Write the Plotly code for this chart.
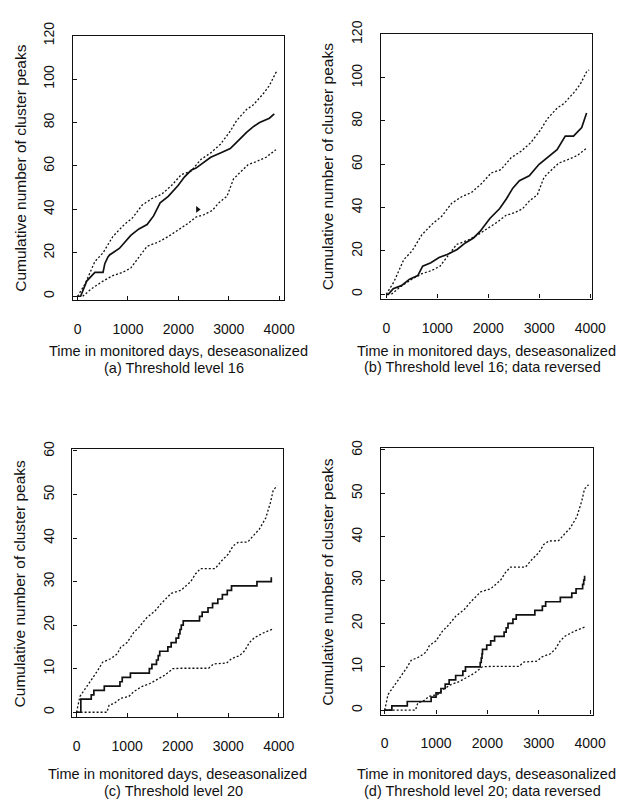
import plotly.graph_objects as go

W, H = 640, 799

# ---- Data ----
# Threshold 16: envelope curves (same in panels a and b)
t16_upper = [0, 149, 343, 505, 699, 926, 1087, 1282, 1476, 1670, 1864, 2058, 2252, 2447, 2641, 2835, 3029, 3159, 3353, 3482, 3676, 3806, 3935, 3980]
n16_upper = [0, 5.7, 16, 20, 27.5, 33, 36, 42, 45, 47, 51, 56, 57.6, 63, 66, 70, 76, 81, 86, 88, 93, 97, 103, 103.5]
t16_lower = [100, 278, 505, 699, 893, 1055, 1217, 1379, 1605, 1799, 1994, 2188, 2350, 2512, 2673, 2803, 2964, 3094, 3223, 3385, 3547, 3741, 3935]
n16_lower = [0, 3.5, 7, 9.5, 11, 13, 18, 23, 25, 27.5, 30.5, 33.5, 36.5, 37.6, 39.5, 43, 46, 54, 57, 60.6, 62, 64, 67.5]

# (a) observed cumulative count
t_a = [0, 60, 181, 343, 505, 540, 600, 634, 828, 1055, 1217, 1379, 1508, 1638, 1799, 1994, 2123, 2252, 2350, 2512, 2641, 2835, 3029, 3159, 3353, 3482, 3612, 3806, 3903]
n_a = [0, 0, 7, 11, 11, 15, 18, 19, 22, 28, 31, 33, 37, 43, 46, 51, 55, 58, 59, 62, 64, 66, 68, 71, 75.5, 78, 80, 82, 84]
# (b) observed, data reversed
t_b = [0, 40, 135, 296, 457, 618, 714, 875, 1035, 1196, 1389, 1550, 1711, 1839, 2032, 2225, 2354, 2482, 2611, 2804, 2997, 3158, 3350, 3511, 3672, 3833, 3929]
n_b = [0, 0, 2.6, 4, 7, 8.6, 13, 14.6, 17, 18.4, 20.7, 23.7, 26, 29, 35, 39.6, 44, 49, 52.4, 54.7, 60, 63, 66.8, 73, 73, 77, 83.7]
# stray mark in panel (a)
t_mark = [2382]
n_mark = [40]

# Threshold 20: envelope curves (same in panels c and d)
t20_upper = [0, 65, 129, 194, 290, 419, 516, 677, 806, 871, 1000, 1129, 1226, 1387, 1548, 1677, 1871, 2065, 2258, 2355, 2452, 2742, 2871, 3000, 3097, 3194, 3387, 3516, 3613, 3742, 3839, 3890, 3968]
n20_upper = [0, 3.6, 4.7, 5.9, 7.4, 9.6, 11.5, 12.3, 13.4, 14.9, 16, 18.3, 19.4, 21.7, 23.2, 25, 27.3, 28, 30, 31.8, 33, 33, 34.8, 36.3, 38.2, 39, 39.1, 40.8, 42, 44.6, 48.3, 51, 52]
t20_lower = [0, 600, 645, 742, 871, 1032, 1129, 1290, 1452, 1581, 1742, 1903, 2065, 2613, 2710, 2968, 3065, 3226, 3323, 3419, 3516, 3710, 3903]
n20_lower = [0, 0, 1.7, 2, 3.2, 3.6, 4.7, 5.9, 6.6, 7.5, 8.5, 10, 10.1, 10.1, 11.1, 11.3, 12.3, 13, 14.1, 16, 17.1, 18.3, 19.2]

# (c) observed step counts
t_c = [0, 84, 290, 342, 548, 858, 903, 1065, 1439, 1490, 1581, 1615, 1645, 1806, 1871, 1968, 2019, 2045, 2071, 2110, 2432, 2484, 2600, 2690, 2794, 2884, 2981, 3065, 3568, 3852]
n_c = [0, 3, 4, 5, 6, 7, 8, 9, 10, 11, 12, 13, 14, 15, 16, 17, 18, 19, 20, 21, 22, 23, 24, 25, 26, 27, 28, 29, 30, 31]
# (d) observed step counts, data reversed
t_d = [0, 140, 440, 904, 1000, 1096, 1178, 1255, 1382, 1522, 1573, 1860, 1880, 1895, 1904, 1987, 2064, 2140, 2325, 2365, 2401, 2497, 2561, 2924, 3070, 3134, 3420, 3643, 3726, 3854, 3875, 3892]
n_d = [0, 1, 2, 3, 4, 5, 6, 7, 8, 9, 10, 11, 12, 13, 14, 15, 16, 17, 18, 19, 20, 21, 22, 23, 24, 25, 26, 27, 28, 29, 30, 31]

x_ticks = [0, 1000, 2000, 3000, 4000]
y_ticks_16 = [0, 20, 40, 60, 80, 100, 120]
y_ticks_20 = [0, 10, 20, 30, 40, 50, 60]

x_title = "Time in monitored days, deseasonalized"
y_title = "Cumulative number of cluster peaks"
subtitles = ["(a) Threshold level 16", "(b) Threshold level 16; data reversed",
             "(c) Threshold level 20", "(d) Threshold level 20; data reversed"]

# ---- Layout geometry (pixels) ----
boxes = [(74.7, 290.3, 22, 291.5), (389.7, 605.5, 20.7, 289.7),
         (74, 289, 443, 716), (389.3, 606, 442, 713)]
xranges = [[-90, 4095], [-100, 4040], [-83, 4077], [-76, 4051]]
yranges = [[-1.9, 120], [-2, 120], [-1.2, 60.4], [-1, 60.4]]
title_line1 = [343.5, 343.0, 774.0, 774.0]
LINE_GAP = 16.6

FONT = "Liberation Sans, Arial, Helvetica, sans-serif"
INK = "#111111"
DOT = "2px,2px"

fig = go.Figure()

def add_line(i, x, y, dash, width, shape="linear"):
    fig.add_trace(go.Scatter(
        x=x, y=y, mode="lines", line=dict(color=INK, width=width, dash=dash, shape=shape),
        xaxis="x" if i == 0 else f"x{i+1}", yaxis="y" if i == 0 else f"y{i+1}",
        showlegend=False, hoverinfo="skip"))

add_line(0, t16_upper, n16_upper, DOT, 1.3)
add_line(0, t16_lower, n16_lower, DOT, 1.3)
add_line(0, t_a, n_a, "solid", 1.7)
fig.add_trace(go.Scatter(x=t_mark, y=n_mark, mode="markers",
                         marker=dict(symbol="triangle-right", size=6, color=INK),
                         xaxis="x", yaxis="y", showlegend=False, hoverinfo="skip"))
add_line(1, t16_upper, n16_upper, DOT, 1.3)
add_line(1, t16_lower, n16_lower, DOT, 1.3)
add_line(1, t_b, n_b, "solid", 1.7)
add_line(2, t20_upper, n20_upper, DOT, 1.3)
add_line(2, t20_lower, n20_lower, DOT, 1.3)
add_line(2, t_c, n_c, "solid", 1.7, "hv")
add_line(3, t20_upper, n20_upper, DOT, 1.3)
add_line(3, t20_lower, n20_lower, DOT, 1.3)
add_line(3, t_d, n_d, "solid", 1.7, "hv")

layout = dict(width=W, height=H, margin=dict(l=0, r=0, t=0, b=0),
              paper_bgcolor="white", plot_bgcolor="white",
              font=dict(family=FONT, color=INK, size=14))

annotations = []
for i, (l, r, t, b) in enumerate(boxes):
    sx = "" if i == 0 else str(i + 1)
    yt = y_ticks_16 if i < 2 else y_ticks_20
    common = dict(showline=True, mirror=True, linecolor=INK, linewidth=1.3,
                  ticks="inside", ticklen=4, tickwidth=1, tickcolor=INK,
                  showgrid=False, zeroline=False, tickfont=dict(size=14, family=FONT, color=INK))
    layout["xaxis" + sx] = dict(domain=[l / W, r / W], range=xranges[i],
                                anchor="y" + sx, tickvals=x_ticks,
                                ticktext=[str(v) for v in x_ticks],
                                ticklabelstandoff=16, **common)
    layout["yaxis" + sx] = dict(domain=[1 - b / H, 1 - t / H], range=yranges[i],
                                anchor="x" + sx, tickvals=yt,
                                ticktext=[str(v) for v in yt], tickangle=-90,
                                ticklabelstandoff=12, **common)
    cx = (l + r) / 2
    cy = (t + b) / 2
    annotations.append(dict(xref="paper", yref="paper", x=(l - 54.5) / W, y=1 - cy / H,
                            text=y_title, textangle=-90, showarrow=False,
                            xanchor="center", yanchor="middle",
                            font=dict(size=15.5, family=FONT, color=INK)))
    l1 = title_line1[i]
    annotations.append(dict(xref="paper", yref="paper", x=cx / W, y=1 - l1 / H,
                            text=x_title, showarrow=False, xanchor="center", yanchor="middle",
                            font=dict(size=14.5, family=FONT, color=INK)))
    annotations.append(dict(xref="paper", yref="paper", x=(cx - 4.5) / W, y=1 - (l1 + LINE_GAP) / H,
                            text=subtitles[i], showarrow=False, xanchor="center", yanchor="middle",
                            font=dict(size=14.5, family=FONT, color=INK)))

layout["annotations"] = annotations
fig.update_layout(**layout)
fig.write_html("out.html", config={"displayModeBar": False},
               post_script="document.body.style.margin='0';document.body.style.padding='0';document.body.style.overflow='hidden';")
